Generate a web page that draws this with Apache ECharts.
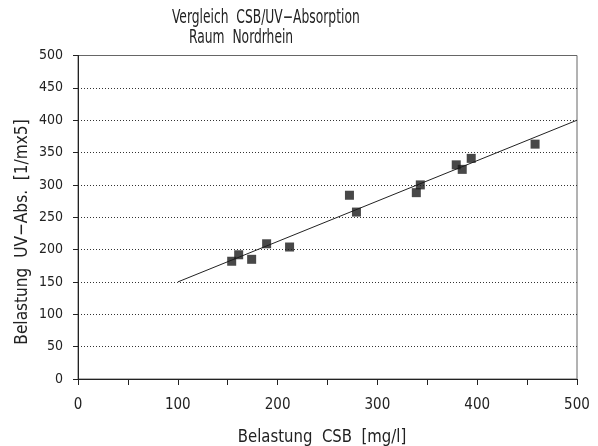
<!DOCTYPE html>
<html><head><meta charset="utf-8">
<script src="https://cdn.jsdelivr.net/npm/echarts@6/dist/echarts.min.js"></script>
<style>html,body{margin:0;padding:0;background:#fff}#c{width:598px;height:446px}</style>
</head><body><div id="c"></div>
<script>
var csb = [154, 161, 174, 189, 212, 272, 279, 339, 343, 379, 385, 394, 458];
var uv  = [182, 192, 185, 209, 204, 284, 258, 288, 300, 331, 324, 341, 363];
var fitX = [100, 500];
var fitY = [150, 400];
var titleLine1 = 'Vergleich  CSB/UV\u2212Absorption';
var titleLine2 = 'Raum  Nordrhein';
var xName = 'Belastung  CSB  [mg/l]';
var yName = 'Belastung  UV\u2212Abs.  [1/mx5]';

var FONT = 'Liberation Sans Narrow, DejaVu Sans Condensed, sans-serif';
var chart = echarts.init(document.getElementById('c'));
chart.setOption({
  animation: false,
  backgroundColor: '#fff',
  graphic: [
    {type: 'text', x: 172, y: 18, scaleX: 0.72, style: {text: titleLine1, font: '19px ' + FONT, fill: '#222', align: 'left', verticalAlign: 'middle'}},
    {type: 'text', x: 189, y: 38, scaleX: 0.72, style: {text: titleLine2, font: '19px ' + FONT, fill: '#222', align: 'left', verticalAlign: 'middle'}},
    {type: 'text', x: 322, y: 437, scaleX: 0.92, style: {text: xName, font: '18px ' + FONT, fill: '#222', align: 'center', verticalAlign: 'middle'}},
    {type: 'text', x: 22, y: 232, rotation: Math.PI / 2, scaleX: 0.95, style: {text: yName, font: '18px ' + FONT, fill: '#222', align: 'center', verticalAlign: 'middle'}}
  ],
  grid: {left: 78, right: 21, top: 55.5, bottom: 67, show: true, borderColor: '#666', borderWidth: 1},
  xAxis: {
    type: 'value', min: 0, max: 500, interval: 50,
    axisLine: {lineStyle: {color: '#222', width: 1}},
    axisTick: {show: true, length: 6, lineStyle: {color: '#222'}},
    axisLabel: {fontFamily: FONT, fontSize: 15, color: '#222', margin: 19,
      formatter: function (v) { return v % 100 === 0 ? String(v) : ''; }},
    splitLine: {show: false}
  },
  yAxis: {
    type: 'value', min: 0, max: 500, interval: 50,
    axisLine: {lineStyle: {color: '#222', width: 1}},
    axisTick: {show: true, length: 5, lineStyle: {color: '#222'}},
    axisLabel: {fontFamily: FONT, fontSize: 14, color: '#222', margin: 15},
    splitLine: {show: true, showMinLine: false, showMaxLine: false, lineStyle: {color: '#333', type: [1, 2], width: 1}}
  },
  series: [
    {type: 'line', data: fitX.map(function (x, i) { return [x, fitY[i]]; }),
      symbol: 'none', lineStyle: {color: '#222', width: 1}, z: 2},
    {type: 'scatter', data: csb.map(function (x, i) { return [x, uv[i]]; }),
      symbol: 'rect', symbolSize: 9, itemStyle: {color: '#1a1a1a'}, z: 3}
  ]
});
</script></body></html>
